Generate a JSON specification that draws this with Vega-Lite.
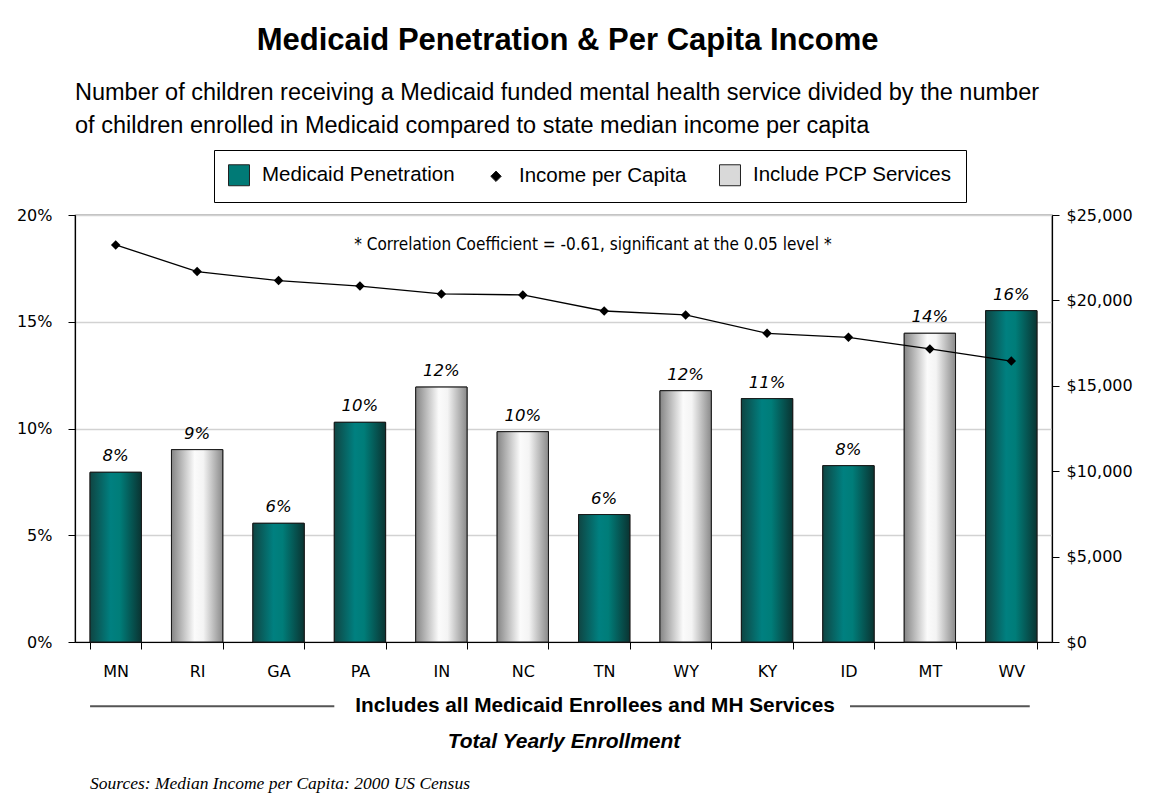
{
  "$schema": "https://vega.github.io/schema/vega-lite/v6.json",
  "background": "white",
  "padding": {"left": 14, "top": 24, "right": 5, "bottom": 0},
  "title": {
    "text": "Medicaid Penetration & Per Capita Income",
    "anchor": "middle",
    "font": "Liberation Sans",
    "fontSize": 31,
    "fontWeight": "bold",
    "color": "#000000",
    "offset": 23,
    "dx": -6
  },
  "vconcat": [
    {
      "width": 977,
      "height": 427,
      "title": {
        "text": [
          "Number of children receiving a Medicaid funded mental health service divided by the number",
          "of children enrolled in Medicaid compared to state median income per capita"
        ],
        "anchor": "start",
        "frame": "group",
        "font": "Liberation Sans",
        "fontSize": 23.5,
        "fontWeight": "normal",
        "lineHeight": 33,
        "color": "#000000",
        "offset": 70
      },
      "data": {
        "values": [
          {"state": "MN", "pct": 0.0795, "income": 23250, "type": "Medicaid Penetration"},
          {"state": "RI", "pct": 0.0901, "income": 21690, "type": "Include PCP Services"},
          {"state": "GA", "pct": 0.0556, "income": 21160, "type": "Medicaid Penetration"},
          {"state": "PA", "pct": 0.1029, "income": 20840, "type": "Medicaid Penetration"},
          {"state": "IN", "pct": 0.1194, "income": 20380, "type": "Include PCP Services"},
          {"state": "NC", "pct": 0.0985, "income": 20320, "type": "Include PCP Services"},
          {"state": "TN", "pct": 0.0597, "income": 19380, "type": "Medicaid Penetration"},
          {"state": "WY", "pct": 0.1177, "income": 19150, "type": "Include PCP Services"},
          {"state": "KY", "pct": 0.1140, "income": 18070, "type": "Medicaid Penetration"},
          {"state": "ID", "pct": 0.0826, "income": 17840, "type": "Medicaid Penetration"},
          {"state": "MT", "pct": 0.1446, "income": 17160, "type": "Include PCP Services"},
          {"state": "WV", "pct": 0.1552, "income": 16450, "type": "Medicaid Penetration"}
        ]
      },
      "encoding": {
        "x": {
          "field": "state",
          "type": "nominal",
          "sort": null,
          "scale": {
            "domain": ["MN", "RI", "GA", "PA", "IN", "NC", "TN", "WY", "KY", "ID", "MT", "WV"],
            "paddingInner": 0.37,
            "paddingOuter": 0.185
          },
          "axis": {
            "title": "Total Yearly Enrollment",
            "titleFont": "Liberation Sans",
            "titleFontSize": 21,
            "titleFontWeight": "bold",
            "titleFontStyle": "italic",
            "titleColor": "#000000",
            "titleY": 99,
            "titleBaseline": "middle",
            "labelFont": "DejaVu Sans",
            "labelFontSize": 16,
            "labelColor": "#000000",
            "labelAngle": 0,
            "labelPadding": 14,
            "tickBand": "extent",
            "tickSize": 7,
            "tickColor": "#000000",
            "domainColor": "#000000",
            "domainWidth": 1.2,
            "grid": false
          }
        }
      },
      "layer": [
        {
          "layer": [
            {
              "mark": {"type": "bar", "stroke": "#1a1a1a", "strokeWidth": 1},
              "encoding": {
                "y": {
                  "field": "pct",
                  "type": "quantitative",
                  "scale": {"domain": [0, 0.2], "nice": false, "zero": true},
                  "axis": {
                    "title": null,
                    "orient": "left",
                    "format": ".0%",
                    "values": [0, 0.05, 0.1, 0.15, 0.2],
                    "labelFont": "DejaVu Sans",
                    "labelFontSize": 16,
                    "labelColor": "#000000",
                    "labelPadding": 16,
                    "tickSize": 7,
                    "tickColor": "#000000",
                    "domainColor": "#000000",
                    "domainWidth": 1.2,
                    "grid": true,
                    "gridColor": "#d2d2d2",
                    "gridWidth": 1.5,
                    "minExtent": 60,
                    "maxExtent": 60
                  }
                },
                "color": {
                  "field": "type",
                  "type": "nominal",
                  "scale": {
                    "domain": ["Medicaid Penetration", "Income per Capita", "Include PCP Services"],
                    "range": ["#007a76", "#000000", "#d9d9d9"]
                  },
                  "legend": {
                    "title": null,
                    "orient": "none",
                    "legendX": 139,
                    "legendY": -65,
                    "direction": "horizontal",
                    "columns": 3
                  }
                }
              }
            },
            {
              "mark": {"type": "bar", "stroke": "#1a1a1a", "strokeWidth": 1},
              "encoding": {
                "y": {"field": "pct", "type": "quantitative"},
                "fill": {
                  "condition": {
                    "test": "datum.type === 'Medicaid Penetration'",
                    "value": {"gradient": "linear", "x1": 0, "y1": 0, "x2": 1, "y2": 0, "stops": [
                      {"offset": 0, "color": "#0f4543"},
                      {"offset": 0.4, "color": "#008080"},
                      {"offset": 0.58, "color": "#007d79"},
                      {"offset": 1, "color": "#0a3432"}
                    ]}
                  },
                  "value": {"gradient": "linear", "x1": 0, "y1": 0, "x2": 1, "y2": 0, "stops": [
                    {"offset": 0, "color": "#858585"},
                    {"offset": 0.45, "color": "#fbfbfb"},
                    {"offset": 0.62, "color": "#f4f4f4"},
                    {"offset": 1, "color": "#8a8a8a"}
                  ]}
                }
              }
            },
            {
              "mark": {"type": "text", "font": "DejaVu Sans", "fontSize": 16.5, "fontStyle": "italic", "color": "#000000", "baseline": "alphabetic", "dy": -11},
              "encoding": {
                "y": {"field": "pct", "type": "quantitative"},
                "text": {"field": "pct", "type": "quantitative", "format": ".0%"}
              }
            },
            {
              "data": {"values": [{}]},
              "mark": {"type": "text", "font": "DejaVu Sans Condensed, DejaVu Sans", "fontSize": 17, "color": "#000000", "align": "center", "baseline": "middle"},
              "encoding": {
                "x": {"datum": "TN", "type": "nominal", "bandPosition": 0.28},
                "y": {"datum": 0.1858, "type": "quantitative"},
                "text": {"value": "* Correlation Coefficient = -0.61, significant at the 0.05 level *"}
              }
            },
            {
              "data": {"values": [{}]},
              "mark": {"type": "rule", "color": "#555555", "strokeWidth": 2},
              "encoding": {
                "x": {"datum": "MN", "type": "nominal", "bandPosition": 0},
                "x2": {"datum": "PA", "bandPosition": 0},
                "y": {"datum": -0.0301, "type": "quantitative"}
              }
            },
            {
              "data": {"values": [{}]},
              "mark": {"type": "rule", "color": "#555555", "strokeWidth": 2},
              "encoding": {
                "x": {"datum": "ID", "type": "nominal", "bandPosition": 0.53},
                "x2": {"datum": "WV", "bandPosition": 0.86},
                "y": {"datum": -0.0301, "type": "quantitative"}
              }
            },
            {
              "data": {"values": [{}]},
              "mark": {"type": "text", "font": "Liberation Sans", "fontSize": 20.8, "fontWeight": "bold", "color": "#000000", "align": "center", "baseline": "middle"},
              "encoding": {
                "x": {"datum": "TN", "type": "nominal", "bandPosition": 0.32},
                "y": {"datum": -0.0301, "type": "quantitative"},
                "text": {"value": "Includes all Medicaid Enrollees and MH Services"}
              }
            },
            {
              "data": {"values": [{}]},
              "mark": {"type": "text", "font": "Liberation Serif", "fontSize": 17.5, "fontStyle": "italic", "color": "#000000", "align": "left", "baseline": "middle"},
              "encoding": {
                "x": {"datum": "MN", "type": "nominal", "bandPosition": 0},
                "y": {"datum": -0.0664, "type": "quantitative"},
                "text": {"value": "Sources: Median Income per Capita: 2000 US Census"}
              }
            }
          ]
        },
        {
          "layer": [
            {
              "mark": {"type": "line", "color": "#000000", "strokeWidth": 1.3},
              "encoding": {
                "y": {
                  "field": "income",
                  "type": "quantitative",
                  "scale": {"domain": [0, 25000], "nice": false},
                  "axis": {
                    "title": null,
                    "orient": "right",
                    "format": "$,.0f",
                    "values": [0, 5000, 10000, 15000, 20000, 25000],
                    "labelFont": "DejaVu Sans",
                    "labelFontSize": 16,
                    "labelColor": "#000000",
                    "labelPadding": 7,
                    "tickSize": 7,
                    "tickColor": "#000000",
                    "domainColor": "#000000",
                    "domainWidth": 1.2,
                    "grid": false
                  }
                }
              }
            },
            {
              "mark": {"type": "point", "filled": true, "opacity": 1, "size": 360},
              "encoding": {
                "y": {"field": "income", "type": "quantitative"},
                "color": {"datum": "Income per Capita", "type": "nominal"},
                "shape": {
                  "datum": "Income per Capita",
                  "type": "nominal",
                  "scale": {
                    "domain": ["Medicaid Penetration", "Income per Capita", "Include PCP Services"],
                    "range": ["square", "M-0.5,0L0,-0.5L0.5,0L0,0.5Z", "square"]
                  },
                  "legend": {"title": null, "orient": "none", "legendX": 139, "legendY": -65, "direction": "horizontal", "columns": 3}
                }
              }
            }
          ]
        }
      ],
      "resolve": {"scale": {"y": "independent"}}
    }
  ],
  "config": {
    "view": {"stroke": "#000000", "strokeWidth": 1.2},
    "legend": {
      "strokeColor": "#000000",
      "fillColor": "#ffffff",
      "padding": 14,
      "labelFont": "Liberation Sans",
      "labelFontSize": 20.5,
      "labelColor": "#000000",
      "labelOffset": 12,
      "columnPadding": 30,
      "symbolSize": 440,
      "symbolStrokeColor": "#222222",
      "symbolStrokeWidth": 1,
      "labelLimit": 400
    }
  }
}
